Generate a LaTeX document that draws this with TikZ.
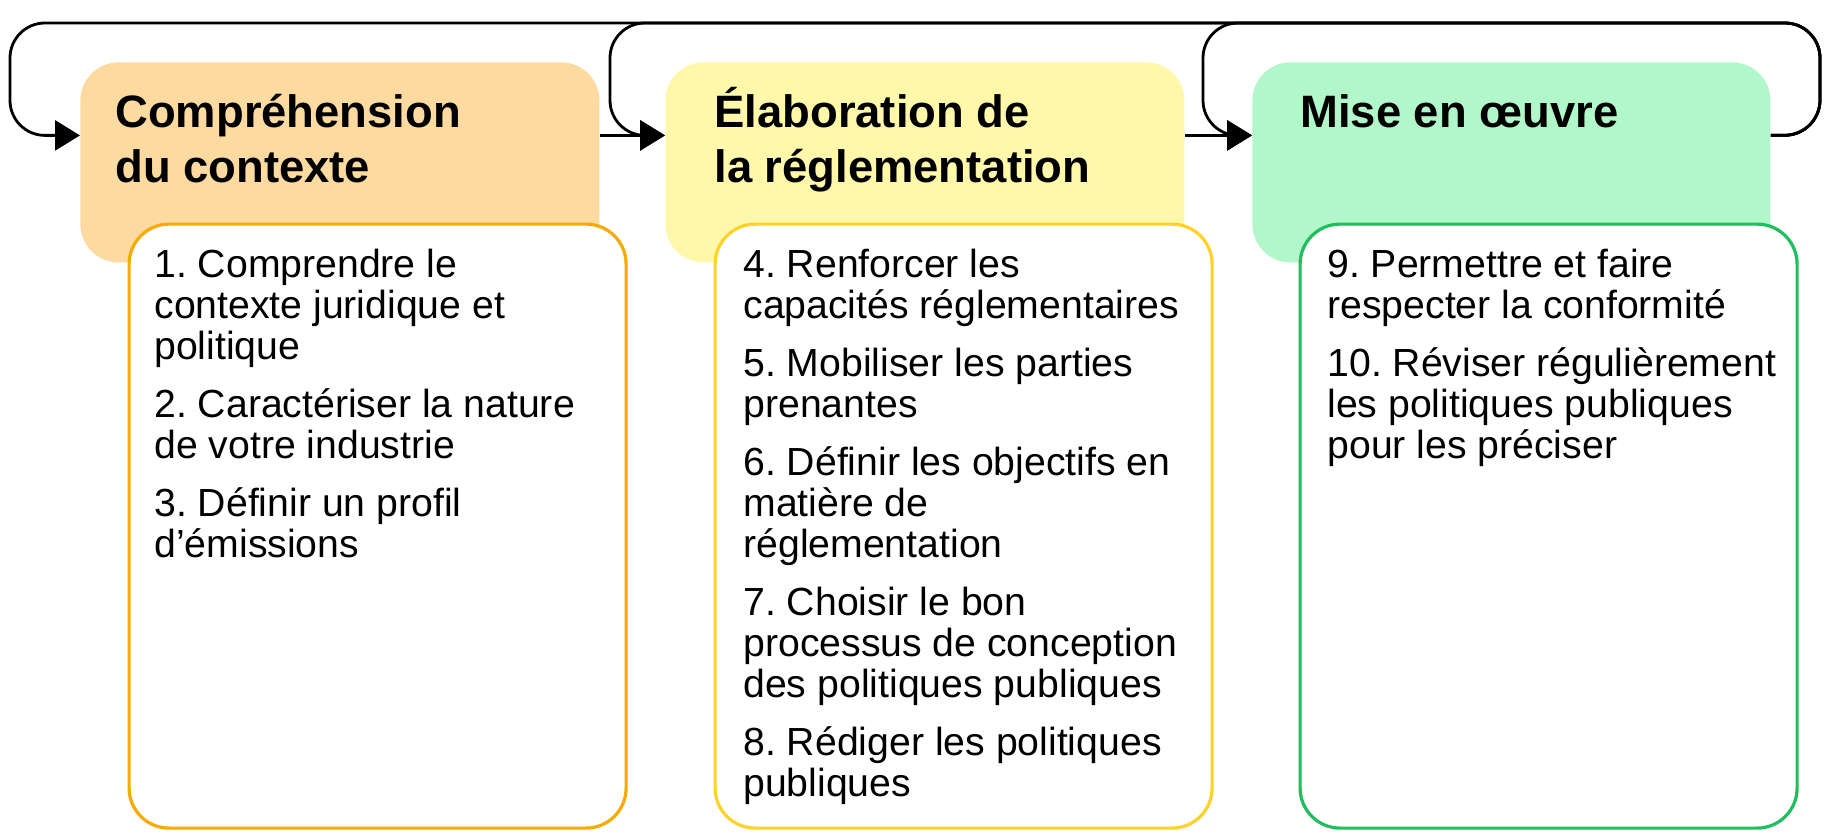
\documentclass[tikz,border=0pt]{standalone}
\usepackage{fontspec}
\setmainfont{Liberation Sans}
\usetikzlibrary{arrows.meta}
\definecolor{hOne}{HTML}{FDDAA0}
\definecolor{sOne}{HTML}{F5AB00}
\definecolor{hTwo}{HTML}{FFF8AA}
\definecolor{sTwo}{HTML}{FFD228}
\definecolor{hThree}{HTML}{B2F7C9}
\definecolor{sThree}{HTML}{20BE5F}
\frenchspacing
\begin{document}
\begin{tikzpicture}[x=0.5pt,y=-0.5pt,
  hdr/.style={draw=none, rounded corners=19pt, anchor=north west, inner sep=0pt,
    minimum width=259.5pt, minimum height=100pt},
  body/.style={fill=white, line width=1.6pt, rounded corners=20pt, anchor=north west, inner sep=0pt,
    minimum width=248.5pt, minimum height=302pt},
  ttl/.style={anchor=north west, inner sep=0pt, align=left,
    font=\fontsize{22.7}{27.5}\selectfont\bfseries},
  itm/.style={anchor=north west, inner sep=0pt, align=left,
    font=\fontsize{19.6}{20.5}\selectfont},
  conn/.style={line width=1.4pt, -{Triangle[length=12.5pt,width=15pt]}},
  loopc/.style={conn, rounded corners=17.5pt}]
\useasboundingbox (0,0) rectangle (1832,840);

% header boxes
\node[hdr, fill=hOne] (h1) at (80,62) {};
\node[hdr, fill=hTwo] (h2) at (665,62) {};
\node[hdr, fill=hThree, minimum width=259pt] (h3) at (1252,62) {};

% titles
\node[ttl] (t1) at (115,83) {\rule{0pt}{22pt}Compréhension\\du contexte};
\node[ttl] (t2) at (714,83) {\rule{0pt}{22pt}Élaboration de\\la réglementation};
\node[ttl] (t3) at (1300,83) {\rule{0pt}{22pt}Mise en œuvre};

% content boxes
\node[body, draw=sOne] (c1) at (127.5,222.5) {};
\node[body, draw=sTwo] (c2) at (713.5,222.5) {};
\node[body, draw=sThree] (c3) at (1298.5,222.5) {};

% item lists
\node[itm] (l1) at (154,245) {\rule{0pt}{16pt}1. Comprendre le\\contexte juridique et\\politique\\[8.5pt]2. Caractériser la nature\\de votre industrie\\[8.5pt]3. Définir un profil\\d’émissions};
\node[itm] (l2) at (743,245) {\rule{0pt}{16pt}4. Renforcer les\\capacités réglementaires\\[8.5pt]5. Mobiliser les parties\\prenantes\\[8.5pt]6. Définir les objectifs en\\matière de\\réglementation\\[8.5pt]7. Choisir le bon\\processus de conception\\des politiques publiques\\[8.5pt]8. Rédiger les politiques\\publiques};
\node[itm] (l3) at (1327,245) {\rule{0pt}{16pt}9. Permettre et faire\\respecter la conformité\\[8.5pt]10. Réviser régulièrement\\les politiques publiques\\pour les préciser};

% waypoints
\coordinate (rgt) at (1820,135);
\coordinate (top1) at (10,23);
\coordinate (top2) at (610,23);
\coordinate (top3) at (1203,23);

% straight connectors
\draw[conn] ([yshift=13.5pt]h1.east) -- ([yshift=13.5pt]h2.west);
\draw[conn] ([yshift=13.5pt]h2.east) -- ([yshift=13.5pt]h3.west);

% feedback loops
\draw[loopc] ([yshift=13.5pt]h3.east) -- (rgt) |- (top1) |- ([yshift=13.5pt]h1.west);
\draw[loopc] ([yshift=13.5pt]h3.east) -- (rgt) |- (top2) |- ([yshift=13.5pt]h2.west);
\draw[loopc] ([yshift=13.5pt]h3.east) -- (rgt) |- (top3) |- ([yshift=13.5pt]h3.west);
\end{tikzpicture}
\end{document}
